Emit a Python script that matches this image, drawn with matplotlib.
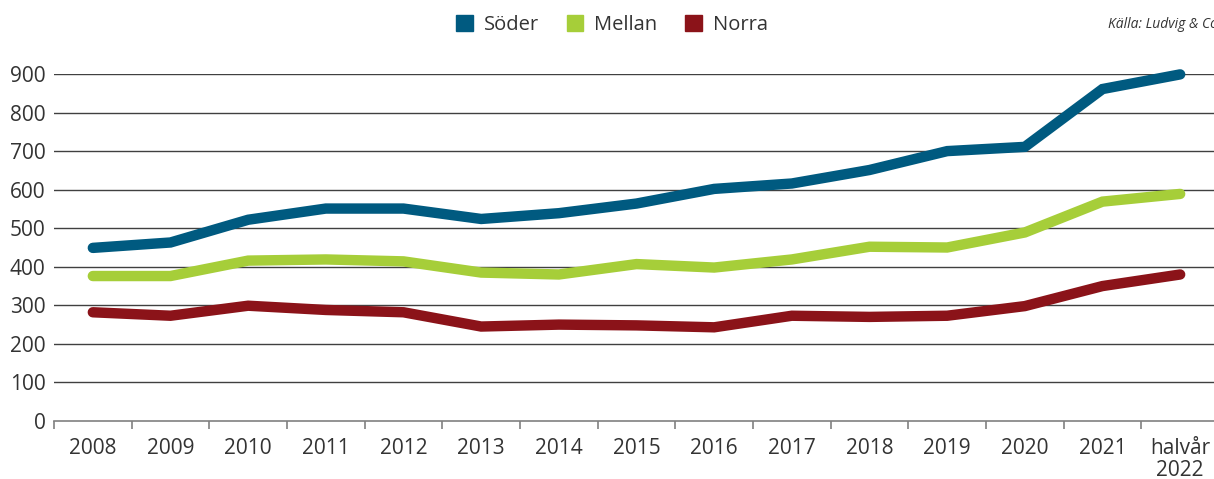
import numpy as np
import matplotlib.pyplot as plt

plt.rcParams['font.family'] = ['Open Sans', 'DejaVu Sans']

years = ['2008', '2009', '2010', '2011', '2012', '2013', '2014', '2015',
         '2016', '2017', '2018', '2019', '2020', '2021', 'halvår\n2022']
soder = [449, 463, 522, 551, 551, 524, 539, 564, 602, 616, 651, 700, 711, 861, 899]
mellan = [376, 376, 416, 419, 414, 385, 380, 407, 398, 419, 452, 450, 489, 569, 589]
norra = [282, 273, 299, 288, 282, 245, 250, 248, 243, 273, 270, 273, 298, 350, 380]

series = [('Söder', soder, '#005a80'),
          ('Mellan', mellan, '#a6ce39'),
          ('Norra', norra, '#8b1319')]

fig = plt.figure(figsize=(12.14, 4.79), dpi=100)
ax = fig.add_axes([54 / 1214, 1 - 421 / 479, 1165 / 1214, 347 / 479])

x = np.arange(len(years))
for name, vals, col in series:
    ax.plot(x, vals, color=col, lw=7.5, solid_capstyle='round',
            solid_joinstyle='miter', label=name, clip_on=False, zorder=3)

ax.set_xlim(-0.5, len(years) - 0.5)
ax.set_ylim(0, 900)
ax.set_yticks(range(0, 1000, 100))
for yv in range(100, 1000, 100):
    ax.axhline(yv, color='#404040', lw=1.0, zorder=1)

ax.set_xticks(x)
ax.set_xticklabels(years, fontsize=15, color='#333333', linespacing=1.08)
ax.set_xticks(np.arange(-0.5, len(years)), minor=True)
ax.tick_params(axis='x', which='major', length=0, pad=12, colors='#333333')
ax.tick_params(axis='x', which='minor', length=6, width=1.2, color='#808080', direction='out')
ax.tick_params(axis='y', length=0, pad=6, labelsize=15, labelcolor='#333333')

for s in ['top', 'right', 'left']:
    ax.spines[s].set_visible(False)
ax.spines['bottom'].set_color('#808080')
ax.spines['bottom'].set_linewidth(1.2)

handles = [plt.Rectangle((0, 0), 1, 1, color=c) for _, _, c in series]
fig.legend(handles, [n for n, _, _ in series], loc='center', bbox_to_anchor=(612 / 1214, 1 - 25 / 479),
           ncol=3, frameon=False, fontsize=14.5, handlelength=0.8, handleheight=0.8,
           handletextpad=0.55, columnspacing=1.4, labelcolor='#333333')

# source note runs off the right edge, as in the original
fig.text(1108 / 1214, 1 - 25 / 479, 'Källa: Ludvig & Co', fontsize=10, style='italic',
         color='#333333', ha='left', va='center')

fig.savefig('out.png', dpi=100)
